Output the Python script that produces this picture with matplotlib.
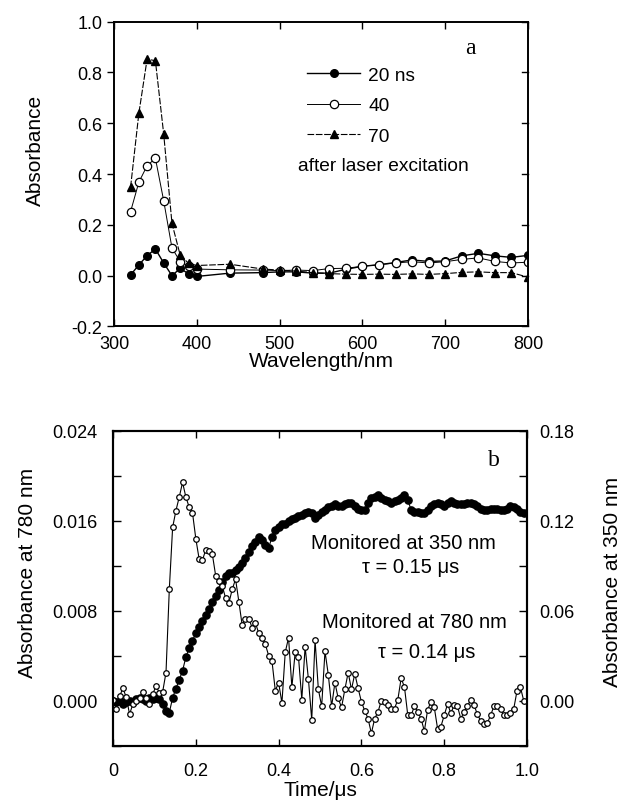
import numpy as np
import matplotlib
matplotlib.use("Agg")
import matplotlib.pyplot as plt
from matplotlib.ticker import MultipleLocator

plt.rcParams['font.family'] = ['Liberation Sans', 'DejaVu Sans']
plt.rcParams['axes.unicode_minus'] = False

# ---- panel a: transient spectra ----
wavelength = [320, 330, 340, 350, 360, 370, 380, 390, 400, 440, 480, 500, 520,
              540, 560, 580, 600, 620, 640, 660, 680, 700, 720, 740, 760, 780, 800]
abs_20ns = [0.003, 0.042, 0.079, 0.105, 0.050, 0.000, 0.029, 0.007, -0.003, 0.010,
            0.012, 0.015, 0.015, 0.010, 0.010, 0.025, 0.037, 0.043, 0.052, 0.062,
            0.056, 0.058, 0.078, 0.088, 0.078, 0.072, 0.080]
abs_40ns = [0.252, 0.368, 0.433, 0.462, 0.295, 0.109, 0.055, 0.037, 0.026, 0.023,
            0.022, 0.020, 0.022, 0.020, 0.028, 0.029, 0.037, 0.043, 0.050, 0.055,
            0.050, 0.055, 0.064, 0.070, 0.056, 0.050, 0.053]
abs_70ns = [0.348, 0.639, 0.853, 0.846, 0.558, 0.206, 0.080, 0.049, 0.040, 0.045,
            0.026, 0.022, 0.018, 0.012, 0.008, 0.006, 0.005, 0.006, 0.005, 0.007,
            0.005, 0.008, 0.013, 0.015, 0.012, 0.012, -0.006]
delay_labels = ["20 ns", "40", "70"]

# ---- panel b: kinetic traces (sampled every 8 ns) ----
t_step = 0.008
abs_780 = [0.0001, -0.0007, 0.0004, 0.0011, 0.0003, -0.0012, -0.0003, 0.0, 0.0002, 0.0008,
           0.0002, -0.0003, 0.0006, 0.0013, 0.0007, 0.0008, 0.0025, 0.0099, 0.0154, 0.0169,
           0.0181, 0.0194, 0.0181, 0.0172, 0.0167, 0.0144, 0.0126, 0.0125, 0.0134, 0.0133,
           0.0130, 0.0111, 0.0106, 0.0102, 0.0091, 0.0087, 0.0099, 0.0108, 0.0088, 0.0067,
           0.0073, 0.0073, 0.0065, 0.0069, 0.0060, 0.0056, 0.0050, 0.0040, 0.0035, 0.0009,
           0.0016, -0.0002, 0.0043, 0.0056, 0.0012, 0.0043, 0.0039, 0.0001, 0.0048, 0.0019,
           -0.0017, 0.0054, 0.0010, -0.0005, 0.0044, 0.0023, -0.0005, 0.0016, 0.0002, -0.0006,
           0.0010, 0.0025, 0.0010, 0.0024, 0.0011, -0.0001, -0.0009, -0.0016, -0.0029, -0.0016,
           -0.0010, 0.0, -0.0001, -0.0004, -0.0007, -0.0007, 0.0001, 0.0020, 0.0012, -0.0013,
           -0.0013, -0.0005, -0.0010, -0.0016, -0.0027, -0.0008, -0.0001, -0.0006, -0.0025, -0.0023,
           -0.0013, -0.0003, -0.0011, -0.0004, -0.0005, -0.0016, -0.0010, -0.0005, 0.0001, -0.0004,
           -0.0012, -0.0018, -0.0021, -0.0020, -0.0013, -0.0005, -0.0005, -0.0007, -0.0013, -0.0013,
           -0.0011, -0.0007, 0.0009, 0.0012, 0.0]
abs_350 = [0.000, -0.001, 0.000, -0.002, -0.001, 0.000, -0.001, 0.001, 0.002, 0.001,
           0.000, 0.002, 0.001, 0.002, 0.001, -0.002, -0.007, -0.008, 0.002, 0.008,
           0.014, 0.020, 0.029, 0.035, 0.040, 0.045, 0.049, 0.053, 0.057, 0.061,
           0.066, 0.070, 0.074, 0.079, 0.083, 0.085, 0.085, 0.087, 0.089, 0.092,
           0.095, 0.099, 0.103, 0.106, 0.109, 0.107, 0.104, 0.102, 0.109, 0.114,
           0.116, 0.118, 0.118, 0.120, 0.121, 0.122, 0.123, 0.124, 0.125, 0.126,
           0.125, 0.122, 0.124, 0.126, 0.127, 0.129, 0.130, 0.131, 0.130, 0.130,
           0.131, 0.132, 0.132, 0.130, 0.128, 0.127, 0.127, 0.132, 0.135, 0.136,
           0.137, 0.135, 0.134, 0.133, 0.132, 0.133, 0.134, 0.135, 0.137, 0.134,
           0.127, 0.126, 0.126, 0.125, 0.125, 0.127, 0.130, 0.131, 0.132, 0.131,
           0.130, 0.132, 0.133, 0.132, 0.131, 0.131, 0.131, 0.132, 0.132, 0.131,
           0.130, 0.128, 0.127, 0.127, 0.128, 0.128, 0.128, 0.127, 0.127, 0.128,
           0.130, 0.129, 0.128, 0.126, 0.125]
time_780 = np.arange(len(abs_780)) * t_step
time_350 = np.arange(len(abs_350)) * t_step

TICK_FS = 13
LABEL_FS = 15
NOTE_FS = 14.5

fig = plt.figure(figsize=(6.24, 8.04), dpi=100)

# panel a
ax = fig.add_axes([0.1827, 0.5927, 0.6635, 0.3791])
ax.plot(wavelength, abs_20ns, '-', color='black', lw=1.0, marker='o', ms=5.5,
        mfc='black', mec='black', label=delay_labels[0])
ax.plot(wavelength, abs_40ns, '-', color='black', lw=0.7, marker='o', ms=6,
        mfc='white', mec='black', mew=0.9, label=delay_labels[1])
ax.plot(wavelength, abs_70ns, '-', color='black', lw=0.8, dashes=(6, 1.5), marker='^', ms=5.5,
        mfc='black', mec='black', label=delay_labels[2])
ax.set_xlim(300, 800)
ax.set_ylim(-0.2, 1.0)
ax.xaxis.set_major_locator(MultipleLocator(100))
ax.yaxis.set_major_locator(MultipleLocator(0.2))
ax.yaxis.set_major_formatter(matplotlib.ticker.FormatStrFormatter('%.1f'))
ax.tick_params(axis='x', direction='in', top=True, length=5, width=1, labelsize=TICK_FS, pad=6)
ax.tick_params(axis='y', direction='out', right=False, length=5, width=1, labelsize=TICK_FS)
for yv in [-0.2, 0.0, 0.2, 0.4, 0.6, 0.8, 1.0]:
    ax.plot([800, 793], [yv, yv], color='black', lw=1, clip_on=False)
for s in ax.spines.values():
    s.set_linewidth(1.4)
ax.set_xlabel('Wavelength/nm', fontsize=LABEL_FS)
ax.xaxis.set_label_coords(0.5, -0.082)
ax.set_ylabel('Absorbance', fontsize=LABEL_FS)
ax.yaxis.set_label_coords(-0.167, 0.58)
ax.legend(loc='upper left', bbox_to_anchor=(0.447, 0.878), frameon=False,
          fontsize=13.8, handlelength=2.8, handletextpad=0.4, labelspacing=0.68,
          borderaxespad=0)
ax.text(0.445, 0.527, 'after laser excitation', transform=ax.transAxes,
        fontsize=13.8, ha='left', va='center')
ax.text(730, 0.90, 'a', family=['Liberation Serif'], fontsize=17, ha='center', va='center')

# panel b
bx = fig.add_axes([0.1811, 0.0713, 0.6635, 0.3918])
bx2 = bx.twinx()
bx.set_zorder(bx2.get_zorder() + 1)
bx.patch.set_visible(False)

bx.plot(time_780, abs_780, '-', color='black', lw=0.8, marker='o', ms=4.0,
        mfc='white', mec='black', mew=0.9)
bx2.plot(time_350, abs_350, '-', color='black', lw=0.8, marker='o', ms=5.2,
         mfc='black', mec='black')

bx.set_xlim(0, 1.0)
bx.set_ylim(-0.004, 0.024)
bx2.set_ylim(-0.03, 0.18)
bx.xaxis.set_major_locator(MultipleLocator(0.2))
bx.xaxis.set_major_formatter(matplotlib.ticker.FuncFormatter(
    lambda v, p: '0' if abs(v) < 1e-9 else '%.1f' % v))
bx.yaxis.set_major_locator(MultipleLocator(0.008))
bx.yaxis.set_minor_locator(MultipleLocator(0.004))
bx.yaxis.set_major_formatter(matplotlib.ticker.FormatStrFormatter('%.3f'))
bx2.yaxis.set_major_locator(MultipleLocator(0.06))
bx2.yaxis.set_minor_locator(MultipleLocator(0.03))
bx2.yaxis.set_major_formatter(matplotlib.ticker.FormatStrFormatter('%.2f'))
bx.tick_params(axis='x', direction='in', top=True, length=5, width=1, labelsize=TICK_FS, pad=12)
bx.tick_params(axis='y', which='both', direction='in', length=6, width=1, labelsize=TICK_FS, pad=11)
bx2.tick_params(axis='y', which='both', direction='in', length=6, width=1, labelsize=TICK_FS, pad=8.5)
for s in list(bx.spines.values()) + list(bx2.spines.values()):
    s.set_linewidth(1.5)
bx.set_xlabel('Time/μs', fontsize=LABEL_FS)
bx.xaxis.set_label_coords(0.5, -0.11)
bx.set_ylabel('Absorbance at 780 nm', fontsize=LABEL_FS)
bx.yaxis.set_label_coords(-0.184, 0.55)
bx2.set_ylabel('Absorbance at 350 nm', fontsize=LABEL_FS, rotation=90)
bx2.yaxis.set_label_coords(1.184, 0.523)

bx.text(0.702, 0.0141, 'Monitored at 350 nm', fontsize=NOTE_FS, ha='center', va='center')
bx.text(0.719, 0.0119, 'τ = 0.15 μs', fontsize=NOTE_FS, ha='center', va='center')
bx.text(0.728, 0.0070, 'Monitored at 780 nm', fontsize=NOTE_FS, ha='center', va='center')
bx.text(0.757, 0.0044, 'τ = 0.14 μs', fontsize=NOTE_FS, ha='center', va='center')
bx.text(0.92, 0.0214, 'b', family=['Liberation Serif'], fontsize=17, ha='center', va='center')

fig.savefig('out.png', dpi=100)
